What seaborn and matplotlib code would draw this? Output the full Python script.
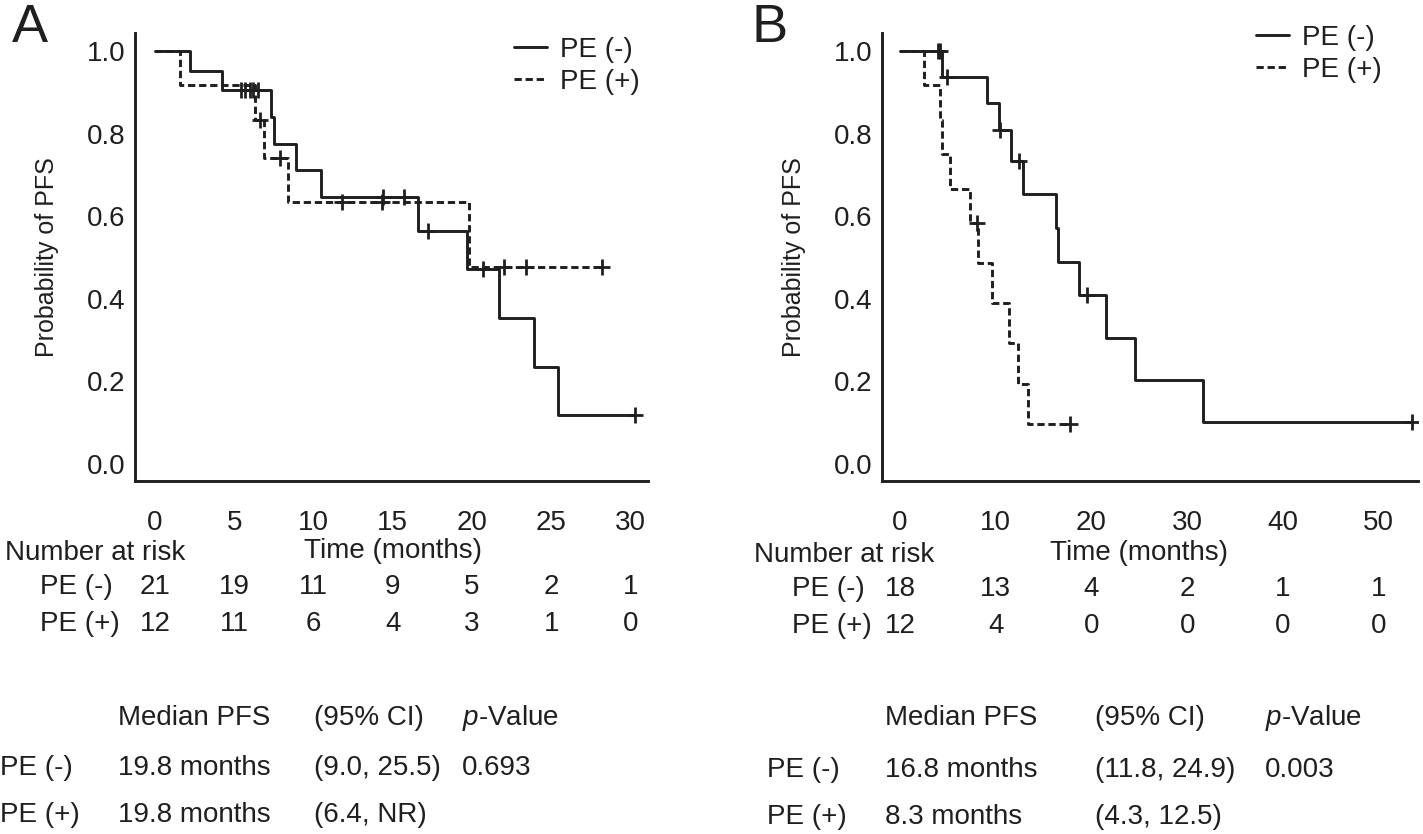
import matplotlib
matplotlib.use("Agg")
import matplotlib.pyplot as plt
import matplotlib.transforms as mtransforms
from matplotlib.lines import Line2D
import pandas as pd
import seaborn as sns

# ---------------- data ----------------
# Panel A : step curves (time in months, survival after the step)
a_neg_t = [0, 2.2, 4.2, 7.3, 7.5, 8.9, 10.5, 16.6, 19.7, 21.7, 23.9, 25.4, 30.3]
a_neg_s = [1.0, 0.952, 0.905, 0.840, 0.776, 0.711, 0.646, 0.565, 0.471, 0.353, 0.235, 0.118, 0.118]
a_neg_ct = [5.4, 5.7, 6.0, 6.2, 6.5, 14.4, 15.7, 17.2, 20.7, 30.3]
a_neg_cs = [0.905, 0.905, 0.905, 0.905, 0.905, 0.646, 0.646, 0.565, 0.471, 0.118]

a_pos_t = [0, 1.6, 6.3, 6.9, 8.4, 19.8, 28.2]
a_pos_s = [1.0, 0.917, 0.833, 0.741, 0.635, 0.476, 0.476]
a_pos_ct = [6.6, 7.9, 11.8, 14.3, 22.0, 23.4, 28.2]
a_pos_cs = [0.833, 0.741, 0.635, 0.635, 0.476, 0.476, 0.476]

# Panel B
b_neg_t = [0, 4.4, 9.1, 10.3, 11.6, 12.8, 16.3, 16.5, 18.7, 21.5, 24.5, 31.6, 53.5]
b_neg_s = [1.0, 0.938, 0.875, 0.808, 0.734, 0.653, 0.571, 0.490, 0.408, 0.306, 0.204, 0.102, 0.102]
b_neg_ct = [4.0, 4.2, 4.9, 10.4, 12.4, 19.5, 53.5]
b_neg_cs = [1.0, 1.0, 0.938, 0.808, 0.734, 0.408, 0.102]

b_pos_t = [0, 2.5, 4.2, 4.4, 5.2, 7.3, 8.1, 9.6, 11.4, 12.3, 13.4, 17.8]
b_pos_s = [1.0, 0.917, 0.833, 0.750, 0.667, 0.583, 0.486, 0.389, 0.292, 0.194, 0.097, 0.097]
b_pos_ct = [8.0, 17.8]
b_pos_cs = [0.583, 0.097]

a_ticks = [0, 5, 10, 15, 20, 25, 30]
a_risk_neg = [21, 19, 11, 9, 5, 2, 1]
a_risk_pos = [12, 11, 6, 4, 3, 1, 0]
b_ticks = [0, 10, 20, 30, 40, 50]
b_risk_neg = [18, 13, 4, 2, 1, 1]
b_risk_pos = [12, 4, 0, 0, 0, 0]
y_ticks = [0.0, 0.2, 0.4, 0.6, 0.8, 1.0]

groups = ["PE (-)", "PE (+)"]
stat_header = ["Median PFS", "(95% CI)", "$p$-Value"]
a_stats = [["19.8 months", "(9.0, 25.5)", "0.693"], ["19.8 months", "(6.4, NR)", ""]]
b_stats = [["16.8 months", "(11.8, 24.9)", "0.003"], ["8.3 months", "(4.3, 12.5)", ""]]

# ---------------- style ----------------
sns.set_theme(style="white")
plt.rcParams["font.family"] = ["Liberation Sans", "DejaVu Sans"]
plt.rcParams["mathtext.fontset"] = "custom"
plt.rcParams["mathtext.rm"] = "Liberation Sans"
plt.rcParams["mathtext.it"] = "Liberation Sans:italic"

INK = "#1f1f1f"
LW = 2.1
DASH = (0, (2.5, 1.3))
FS = 20
W, H = 1423, 834
fig = plt.figure(figsize=(W / 100, H / 100), dpi=100)
fig.patch.set_facecolor("white")


def px_axes(l, t, r, b):
    return fig.add_axes([l / W, 1 - b / H, (r - l) / W, (b - t) / H])


def fy(y):
    return 1 - y / H


def fx(x):
    return x / W


def km_panel(ax, neg, pos, xlim, ticks):
    for (t, s, ct, cs), ls in zip([neg, pos], ["-", DASH]):
        df = pd.DataFrame({"t": t, "s": s})
        sns.lineplot(data=df, x="t", y="s", ax=ax, drawstyle="steps-post",
                     estimator=None, sort=False, color=INK, linewidth=LW,
                     linestyle=ls, legend=False)
        cdf = pd.DataFrame({"t": ct, "s": cs})
        sns.scatterplot(data=cdf, x="t", y="s", ax=ax, marker="+", s=140,
                        color=INK, linewidth=2.0, legend=False, zorder=3)
    ax.set_xlim(*xlim)
    ax.set_ylim(-0.0415, 1.0437)
    ax.set_xticks(ticks)
    ax.set_yticks(y_ticks)
    ax.set_yticklabels([f"{v:.1f}" for v in y_ticks])
    ax.set_xlabel("")
    ax.set_ylabel("Probability of PFS", fontsize=18, color=INK, labelpad=20)
    for sp in ["top", "right"]:
        ax.spines[sp].set_visible(False)
    for sp in ["left", "bottom"]:
        ax.spines[sp].set_linewidth(2.1)
        ax.spines[sp].set_color(INK)
    ax.tick_params(axis="both", direction="out", length=6, width=2.0,
                   color=INK, labelsize=FS, labelcolor=INK)
    ax.tick_params(axis="x", pad=15)
    ax.tick_params(axis="y", pad=1)
    ax.set_facecolor("white")


# ---------------- panel A ----------------
axA = px_axes(135, 33, 648, 481)
km_panel(axA, (a_neg_t, a_neg_s, a_neg_ct, a_neg_cs),
         (a_pos_t, a_pos_s, a_pos_ct, a_pos_cs), (-1.26, 31.1), a_ticks)

# ---------------- panel B ----------------
axB = px_axes(882, 33, 1418, 481)
km_panel(axB, (b_neg_t, b_neg_s, b_neg_ct, b_neg_cs),
         (b_pos_t, b_pos_s, b_pos_ct, b_pos_cs), (-1.88, 54.1), b_ticks)

# panel letters
fig.text(fx(12), fy(3), "A", fontsize=39, color=INK, ha="left", va="top")
fig.text(fx(752), fy(3), "B", fontsize=39, color=INK, ha="left", va="top")

# legends
handles = [Line2D([], [], color=INK, lw=LW, ls="-"),
           Line2D([], [], color=INK, lw=LW, ls=DASH)]
for ax, (lx, ly) in [(axA, (514, 37)), (axB, (1256, 25))]:
    ax.legend(handles, groups, loc="upper left", bbox_to_anchor=(fx(lx), fy(ly)),
              bbox_transform=fig.transFigure, frameon=False, fontsize=FS,
              handlelength=1.2, handletextpad=0.45, labelspacing=0.2,
              borderpad=0, borderaxespad=0, labelcolor=INK)

# number-at-risk tables
for ax, ticks, rneg, rpos, nx, lx, rows in [
        (axA, a_ticks, a_risk_neg, a_risk_pos, 5, 40, (553, 587, 624)),
        (axB, b_ticks, b_risk_neg, b_risk_pos, 754, 792, (555, 589, 626))]:
    tr = mtransforms.blended_transform_factory(ax.transData, fig.transFigure)
    fig.text(fx(nx), fy(rows[0]), "Number at risk", fontsize=FS, color=INK,
             ha="left", va="center")
    ax.text((ticks[0] + ticks[-1]) / 2, fy(rows[0] - 2), "Time (months)",
            transform=tr, fontsize=FS, color=INK, ha="center", va="center")
    for lab, vals, yy in [(groups[0], rneg, rows[1]), (groups[1], rpos, rows[2])]:
        fig.text(fx(lx), fy(yy), lab, fontsize=FS, color=INK, ha="left", va="center")
        for t, v in zip(ticks, vals):
            ax.text(t, fy(yy), str(v), transform=tr, fontsize=FS, color=INK,
                    ha="center", va="center")

# median PFS tables
for cols, stats, rows in [((0, 118, 314, 462), a_stats, (718, 768, 815)),
                          ((767, 885, 1095, 1265), b_stats, (718, 770, 817))]:
    for c, txt in zip(cols[1:], stat_header):
        fig.text(fx(c), fy(rows[0]), txt, fontsize=FS, color=INK, ha="left", va="center")
    for g, row, yy in zip(groups, stats, rows[1:]):
        fig.text(fx(cols[0]), fy(yy), g, fontsize=FS, color=INK, ha="left", va="center")
        for c, txt in zip(cols[1:], row):
            if txt:
                fig.text(fx(c), fy(yy), txt, fontsize=FS, color=INK, ha="left", va="center")

fig.savefig("out.png", dpi=100, facecolor="white")
